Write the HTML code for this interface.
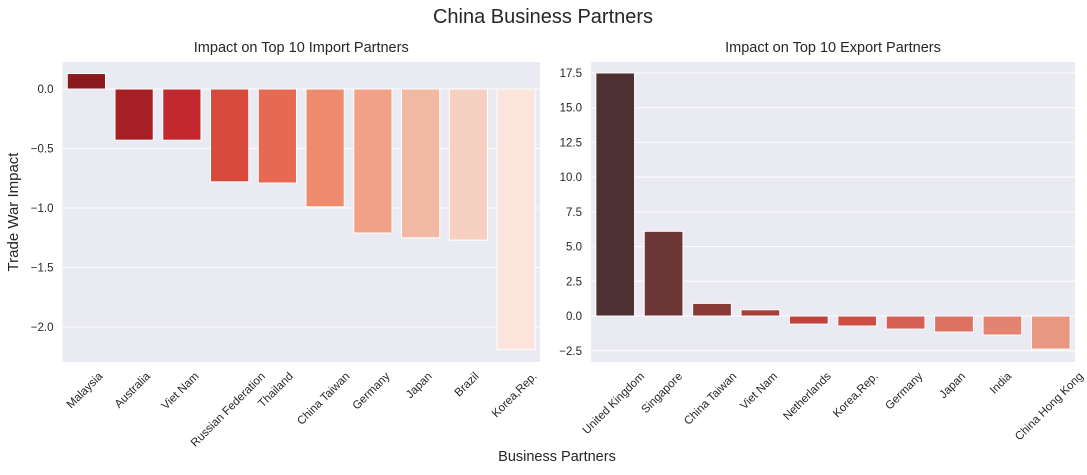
<!DOCTYPE html>
<html><head><meta charset="utf-8"><style>
body{margin:0;background:#fff;font-family:"Liberation Sans",sans-serif}
</style></head><body>
<svg id="fig" width="1087" height="470" xmlns="http://www.w3.org/2000/svg" font-family="Liberation Sans, sans-serif">
<text x="543" y="23" font-size="20" text-anchor="middle" fill="#262626">China Business Partners</text>
<text x="18" y="212" font-size="15" text-anchor="middle" fill="#262626" transform="rotate(-90 18 212)">Trade War Impact</text>
<text x="557" y="461" font-size="14.5" text-anchor="middle" fill="#262626">Business Partners</text>
</svg>
<script>
const importCats=["Malaysia","Australia","Viet Nam","Russian Federation","Thailand","China Taiwan","Germany","Japan","Brazil","Korea,Rep."];
const importVals=[0.13,-0.43,-0.43,-0.78,-0.79,-0.99,-1.21,-1.25,-1.27,-2.19];
const importTicks=[0.0,-0.5,-1.0,-1.5,-2.0];
const importColors=["#8a1a1f","#a81f25","#c2282d","#d84a3b","#e66a52","#ee8a6d","#f0a186","#f2b9a2","#f6d1c1","#fbe5dd"];
const exportCats=["United Kingdom","Singapore","China Taiwan","Viet Nam","Netherlands","Korea,Rep.","Germany","Japan","India","China Hong Kong"];
const exportVals=[17.5,6.1,0.91,0.45,-0.58,-0.72,-0.94,-1.15,-1.37,-2.38];
const exportTicks=[17.5,15.0,12.5,10.0,7.5,5.0,2.5,0.0,-2.5];
const exportColors=["#4e3133","#6c3636","#893a37","#a63e3a","#c0443c","#cf4e43","#d66054","#dc7262","#e38473","#e89781"];
const NS="http://www.w3.org/2000/svg";
const fig=document.getElementById('fig');
function mk(t,a){const e=document.createElementNS(NS,t);for(const k in a)e.setAttribute(k,a[k]);return e;}
function panel(p,cats,vals,ticks,colors,x0,x1,y0,y1,vmax,vmin,title){
  const g=mk('g',{});
  
  
  fig.appendChild(g);
  const ys=v=>y0+(vmax-v)/(vmax-vmin)*(y1-y0);
  const step=(x1-x0)/cats.length;
  const bg=mk('rect',{x:x0,y:y0,width:x1-x0,height:y1-y0,fill:'#eaeaf2'});
  
  
  g.appendChild(bg);
  const t=mk('text',{x:(x0+x1)/2,y:y0-10,'font-size':14.5,'text-anchor':'middle',fill:'#262626'});
  t.textContent=title;
  
  
  g.appendChild(t);
  ticks.forEach(v=>{
    const y=ys(v);
    const l=mk('line',{x1:x0,x2:x1,y1:y,y2:y,stroke:'#fff','stroke-width':1});
    
    
    g.appendChild(l);
    const tx=mk('text',{x:x0-9,y:y+4,'font-size':11.5,'text-anchor':'end',fill:'#262626'});
    tx.textContent=v.toFixed(1).replace('-','\u2212');
    
    
    g.appendChild(tx);
  });
  cats.forEach((c,i)=>{
    const cx=x0+step*(i+0.5), w=step*0.8;
    const ya=ys(Math.max(vals[i],0)), yb=ys(Math.min(vals[i],0));
    const r=mk('rect',{x:cx-w/2,y:ya,width:w,height:yb-ya,fill:colors[i],stroke:'#fff','stroke-width':1});
    
    
    g.appendChild(r);
    const tx=mk('text',{x:0,y:0,'font-size':11.5,'text-anchor':'middle',fill:'#262626'});
    tx.textContent=c;
    
    
    g.appendChild(tx);
    const L=tx.getComputedTextLength();
    const ly=y1+8+L*0.3536+4;
    tx.setAttribute('transform',`translate(${cx-2} ${ly}) rotate(-45)`);
    tx.setAttribute('dy','4');
  });
}
panel('import',importCats,importVals,importTicks,importColors,62.5,540,62,362,0.227,-2.294,'Impact on Top 10 Import Partners');
panel('export',exportCats,exportVals,exportTicks,exportColors,591,1075,62,362,18.29,-3.31,'Impact on Top 10 Export Partners');
</script>
</body></html>
